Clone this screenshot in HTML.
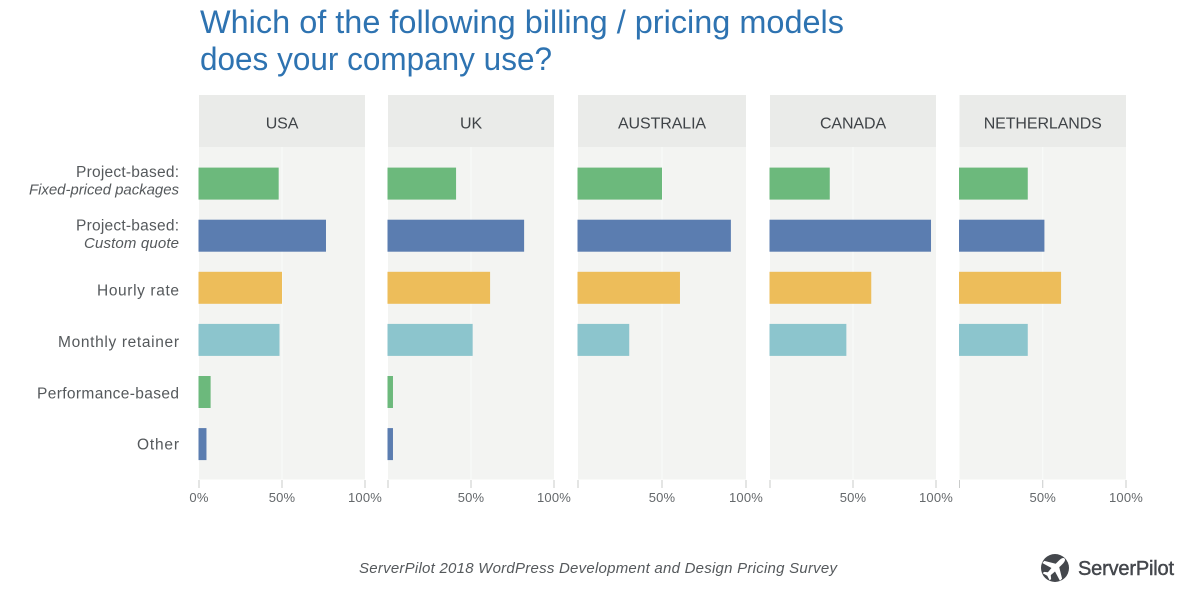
<!DOCTYPE html>
<html lang="en">
<head>
<meta charset="utf-8">
<title>Billing and pricing models survey chart</title>
<style>
html,body{margin:0;padding:0;background:#fff;width:1200px;height:594px;overflow:hidden}
svg{display:block;font-family:"Liberation Sans",sans-serif}
</style>
</head>
<body>
<svg id="chart" xmlns="http://www.w3.org/2000/svg" width="1200" height="594" viewBox="0 0 1200 594">
  <rect x="0" y="0" width="1200" height="594" fill="#ffffff"/>
  <text x="200" y="33" font-size="32" fill="#2e73b1" textLength="644" lengthAdjust="spacingAndGlyphs">Which of the following billing / pricing models</text>
  <text x="200" y="70" font-size="32" fill="#2e73b1" textLength="352" lengthAdjust="spacingAndGlyphs">does your company use?</text>
  <g id="plots"></g>
  <g id="rows"></g>
  <text x="359" y="573" font-size="15" font-style="italic" fill="#55595c" textLength="478" lengthAdjust="spacing">ServerPilot 2018 WordPress Development and Design Pricing Survey</text>
  <g>
    <circle cx="1055" cy="568" r="14" fill="#44474c"/>
    <path transform="translate(1055 568) rotate(45)" d="M0 -13.5C1.7 -13.5 2.5 -11 2.5 -8.5L2.5 -3.5L12.5 2.5L12.5 5.5L2.5 2.5L2 8L5 10.5L5 12.5L0 11L-5 12.5L-5 10.5L-2 8L-2.5 2.5L-12.5 5.5L-12.5 2.5L-2.5 -3.5L-2.5 -8.5C-2.5 -11 -1.7 -13.5 0 -13.5Z" fill="#ffffff"/>
    <text x="1078" y="575" font-size="20" fill="#44474c" stroke="#44474c" stroke-width="0.45" textLength="96" lengthAdjust="spacing">ServerPilot</text>
  </g>
</svg>
<script>
const countries = ["USA", "UK", "AUSTRALIA", "CANADA", "NETHERLANDS"];
const categories = ["Project-based:", "Project-based:", "Hourly rate", "Monthly retainer", "Performance-based", "Other"];
const categorySublabels = ["Fixed-priced packages", "Custom quote", "", "", "", ""];
const usaValues = [48, 76.5, 50, 48.5, 7, 4.5];
const ukValues = [41, 82, 61.5, 51, 3, 3];
const australiaValues = [50, 91, 60.7, 30.5, 0, 0];
const canadaValues = [36, 97, 61, 46, 0, 0];
const netherlandsValues = [41, 51, 61, 41, 0, 0];
const axisTicks = [0, 50, 100];
const tickLabels = ["0%", "50%", "100%"];

const seriesValues = [usaValues, ukValues, australiaValues, canadaValues, netherlandsValues];
const colors = ["#6cb97c", "#5b7db0", "#edbd5a", "#8cc5cd", "#6cb97c", "#5b7db0"];
const panelLeft = [199, 388, 578, 770, 959.5];
const panelRight = [365, 554, 746, 936, 1126];
const NS = "http://www.w3.org/2000/svg";
const plots = document.getElementById("plots");
const rows = document.getElementById("rows");

function make(parent, tag, attrs, text) {
  const el = document.createElementNS(NS, tag);
  for (const k in attrs) el.setAttribute(k, attrs[k]);
  if (text !== undefined) el.textContent = text;
  parent.appendChild(el);
  return el;
}
function xScale(p, v) { return panelLeft[p] + (panelRight[p] - panelLeft[p]) * v / 100; }
function yCenter(i) { return 183.6 + i * 52.1; }

const barHeight = 32;

countries.forEach(function (country, p) {
  const left = panelLeft[p];
  const right = panelRight[p];

  const header = make(plots, "rect", { x: left, y: 95, width: right - left, height: 52, fill: "#eaebe9" });
  
  

  const title = make(plots, "text", {
    x: (left + right) / 2, y: 128.5, "font-size": 16, "text-anchor": "middle", fill: "#3f4347", "letter-spacing": "-0.1"
  }, country);
  
  

  const bg = make(plots, "rect", { x: left, y: 147, width: right - left, height: 332.5, fill: "#f3f4f2" });
  
  

  const grid = make(plots, "line", {
    x1: xScale(p, 50), x2: xScale(p, 50), y1: 147, y2: 479.5, stroke: "#fafbfa", "stroke-width": 1
  });
  
  

  axisTicks.forEach(function (t, k) {
    const x = xScale(p, t);
    const tick = make(plots, "line", { x1: x, x2: x, y1: 480, y2: 488, stroke: "#c9cbca", "stroke-width": 1 });
    
    
    if (t === 0 && p > 0) return;
    const label = make(plots, "text", {
      x: x, y: 502, "font-size": 13, "text-anchor": "middle", fill: "#64686b", "letter-spacing": "0.2"
    }, tickLabels[k]);
    
    
  });

  seriesValues[p].forEach(function (v, i) {
    if (v <= 0) return;
    const bar = make(plots, "rect", {
      x: left - 0.5,
      y: yCenter(i) - barHeight / 2,
      width: xScale(p, v) - left + 0.5,
      height: barHeight,
      fill: colors[i]
    });
    
    
  });
});

/* Label typography: fitted widths per printed string */
const labelFit = {
  "Project-based:": 103,
  "Fixed-priced packages": 150,
  "Custom quote": 95,
  "Hourly rate": 82,
  "Monthly retainer": 121,
  "Performance-based": 142,
  "Other": 42
};

function labelBaseline(i) { return 295.5 + (i - 2) * 51.4; }
function topBaseline(i) { return 177 + i * 53.3; }
function subBaseline(i) { return 194.4 + i * 53.6; }

categories.forEach(function (name, i) {
  const sub = categorySublabels[i];
  const y = sub ? topBaseline(i) : labelBaseline(i);
  const label = make(rows, "text", {
    x: 179, y: y, "font-size": 15.5, "text-anchor": "end", fill: "#55595c",
    textLength: labelFit[name], lengthAdjust: "spacing"
  }, name);
  
  
  if (sub) {
    const subLabel = make(rows, "text", {
      x: 179, y: subBaseline(i), "font-size": 15, "font-style": "italic", "text-anchor": "end", fill: "#55595c",
      textLength: labelFit[sub], lengthAdjust: "spacing"
    }, sub);
    
    
  }
});
</script>
</body>
</html>
